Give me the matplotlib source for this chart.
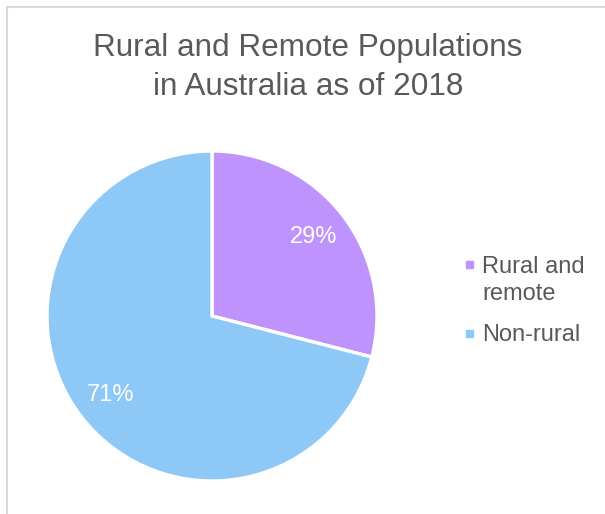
import matplotlib
matplotlib.use('Agg')
import matplotlib.pyplot as plt
from matplotlib.lines import Line2D
from matplotlib.patches import Rectangle

# chart data
categories = ['Rural and\nremote', 'Non-rural']
shares = [29, 71]
colors = ['#BF93FE', '#8EC8F7']
title = 'Rural and Remote Populations\nin Australia as of 2018'

W, H = 605, 514
text_grey = '#595959'
plt.rcParams['font.family'] = ['Liberation Sans', 'DejaVu Sans']

fig = plt.figure(figsize=(W / 100, H / 100), dpi=100)

# pie axes: centre (212, 316) px, radius 165 px
cx, cy, r = 212, 316, 165
ax = fig.add_axes([(cx - r) / W, (H - cy - r) / H, 2 * r / W, 2 * r / H])
wedges, texts, autotexts = ax.pie(
    shares, colors=colors, startangle=90, counterclock=False,
    autopct='%d%%', pctdistance=0.78,
    wedgeprops=dict(edgecolor='white', linewidth=2.4),
    textprops=dict(color='white', fontsize=17))
ax.set_xlim(-1, 1)
ax.set_ylim(-1, 1)
ax.set_aspect('equal')

# title (baseline of the last line)
fig.text(308 / W, 1 - 95 / H, title, ha='center', va='baseline',
         fontsize=22.7, color=text_grey, linespacing=1.38)

# legend drawn by hand so the marker sits on the first text line
first_base = [271.7, 341]
line_step = 28
for lab, col, yb in zip(categories, colors, first_base):
    fig.add_artist(Rectangle((466 / W, 1 - (yb - 4) / H), 7 / W, 7 / H,
                             transform=fig.transFigure, color=col))
    last_base = yb + line_step * lab.count('\n')
    fig.text(482 / W, 1 - last_base / H, lab, ha='left', va='baseline',
             fontsize=17, color=text_grey, linespacing=1.25)

# chart area border (cut at right and bottom)
bc = '#D9D9D9'
fig.add_artist(Line2D([7 / W, 7 / W], [0, 1 - 7 / H], color=bc, lw=1.5))
fig.add_artist(Line2D([7 / W, 1], [1 - 7 / H, 1 - 7 / H], color=bc, lw=1.5))

fig.savefig('out.png', dpi=100)
